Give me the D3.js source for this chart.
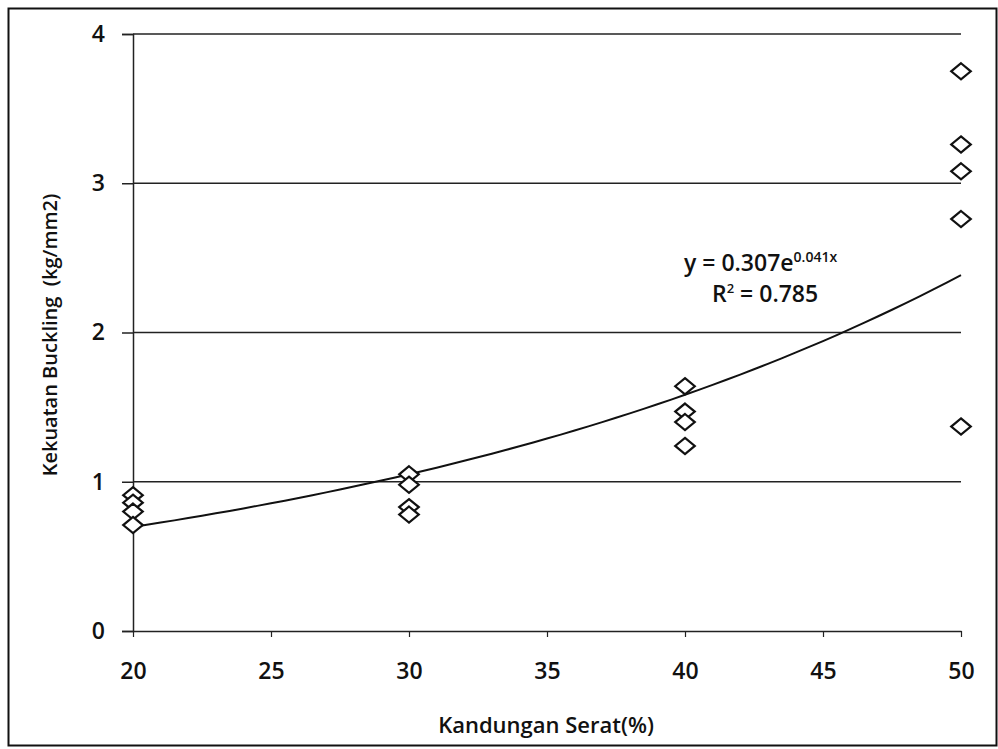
<!DOCTYPE html>
<html>
<head>
<meta charset="utf-8">
<script src="https://cdn.jsdelivr.net/npm/d3@7"></script>
<style>
  html, body { margin: 0; padding: 0; background: #fff; }
  svg { display: block; }
  text { font-family: "Open Sans", Lato, sans-serif; fill: #111; white-space: pre; }
</style>
</head>
<body>
<svg id="chart" width="998" height="749"></svg>
<script>
// ---- data ----
const fiberContent = [20, 20, 20, 20, 30, 30, 30, 30, 40, 40, 40, 40, 50, 50, 50, 50, 50];
const bucklingStrength = [0.91, 0.86, 0.80, 0.71, 1.05, 0.98, 0.83, 0.78, 1.64, 1.47, 1.40, 1.24, 3.75, 3.26, 3.08, 2.76, 1.37];
const xTicks = [20, 25, 30, 35, 40, 45, 50];
const yTicks = [0, 1, 2, 3, 4];
const trendA = 0.307;   // exponential trendline y = a·e^(b·x)
const trendB = 0.041;
const xTitle = "Kandungan Serat(%)";
const yTitle = "Kekuatan Buckling  (kg/mm2)";
const eqMain = "y = 0.307e";
const eqExp = "0.041x";
const r2Label = " = 0.785";

// ---- layout ----
const svg = d3.select("#chart");
const mLeft = 133, mRight = 961, mTop = 34, mBottom = 631;
const x = d3.scaleLinear().domain([20, 50]).range([mLeft, mRight]);
const y = d3.scaleLinear().domain([0, 4]).range([mBottom, mTop]);

// outer frame
svg.append("rect").attr("x", 8.5).attr("y", 8.5).attr("width", 988).attr("height", 737)
  .attr("fill", "none").attr("stroke", "#111").attr("stroke-width", 2);

// gridlines
svg.append("g").selectAll("line").data(yTicks.filter(d => d > 0)).join("line")
  .attr("x1", mLeft).attr("x2", mRight)
  .attr("y1", d => y(d)).attr("y2", d => y(d))
  .attr("stroke", "#222").attr("stroke-width", 1.5);

// y axis
const yAxis = svg.append("g").attr("transform", `translate(${mLeft},0)`)
  .call(d3.axisLeft(y).tickValues(yTicks).tickFormat(d3.format("d")).tickSize(11).tickPadding(17));
yAxis.select(".domain").attr("stroke", "#222").attr("stroke-width", 1.5);
yAxis.selectAll(".tick line").attr("stroke", "#222").attr("stroke-width", 1.5);
yAxis.selectAll(".tick text").attr("font-size", 23).attr("font-weight", 600)
  .attr("font-family", "'Open Sans', sans-serif").attr("fill", "#111");

// x axis
const xAxis = svg.append("g").attr("transform", `translate(0,${mBottom})`)
  .call(d3.axisBottom(x).tickValues(xTicks).tickFormat(d3.format("d")).tickSize(6).tickPadding(26).tickSizeOuter(0));
xAxis.select(".domain").attr("stroke", "#222").attr("stroke-width", 1.5);
xAxis.selectAll(".tick line").attr("stroke", "#222").attr("stroke-width", 1.2);
xAxis.selectAll(".tick text").attr("font-size", 23).attr("font-weight", 600)
  .attr("font-family", "'Open Sans', sans-serif").attr("fill", "#111");

// exponential trendline
const curveX = d3.range(20, 50.01, 0.5);
svg.append("path")
  .datum(curveX)
  .attr("fill", "none").attr("stroke", "#111").attr("stroke-width", 2)
  .attr("d", d3.line().x(d => x(d)).y(d => y(trendA * Math.exp(trendB * d))));

// points (diamonds)
const sym = d3.symbol().type(d3.symbolDiamond).size(75);
svg.append("g").selectAll("path").data(fiberContent.map((v, i) => [v, bucklingStrength[i]])).join("path")
  .attr("d", sym)
  .attr("transform", d => `translate(${x(d[0])},${y(d[1])}) scale(2.1,1)`)
  .attr("fill", "#fff").attr("stroke", "#111").attr("stroke-width", 2.2)
  .attr("vector-effect", "non-scaling-stroke");

// equation label
const eq = svg.append("text").attr("x", 684).attr("y", 271).attr("font-size", 23).attr("font-weight", 600);
eq.append("tspan").text(eqMain);
eq.append("tspan").attr("dy", -9).attr("font-size", 14).text(eqExp);
const r2 = svg.append("text").attr("x", 712).attr("y", 302).attr("font-size", 23).attr("font-weight", 600);
r2.append("tspan").text("R");
r2.append("tspan").attr("dy", -9).attr("font-size", 13).text("2");
r2.append("tspan").attr("dy", 9).text(r2Label);

// axis titles
svg.append("text").attr("x", 546).attr("y", 733).attr("text-anchor", "middle")
  .attr("font-size", 22).attr("font-weight", 600).text(xTitle);
svg.append("text").attr("transform", "translate(57,335) rotate(-90)").attr("text-anchor", "middle")
  .attr("font-size", 20).attr("font-weight", 600).text(yTitle);
</script>
</body>
</html>
